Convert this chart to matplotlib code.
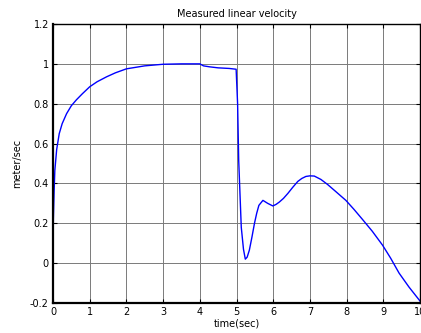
import matplotlib
matplotlib.use("Agg")
import matplotlib.pyplot as plt

# values
time_sec = [0.0, 0.01, 0.03, 0.05, 0.1, 0.17, 0.25, 0.37, 0.5, 0.64, 0.8, 1.0, 1.2,
            1.46, 1.7, 2.0, 2.5, 3.0, 3.5, 4.0, 4.1, 4.27, 4.5, 4.8, 4.99,
            5.03, 5.06, 5.13, 5.19, 5.24, 5.29, 5.35, 5.42, 5.49, 5.55, 5.61, 5.72, 5.85,
            5.99, 6.08, 6.17, 6.28, 6.4, 6.53, 6.67, 6.78, 6.89, 7.0, 7.12, 7.3, 7.48,
            7.7, 7.98, 8.2, 8.43, 8.7, 8.98, 9.2, 9.43, 9.7, 10.0]
velocity = [0.0, 0.22, 0.36, 0.465, 0.57, 0.65, 0.7, 0.75, 0.79, 0.82, 0.85, 0.885, 0.91,
            0.935, 0.955, 0.975, 0.99, 0.998, 1.0, 1.0, 0.99, 0.985, 0.98, 0.977, 0.973,
            0.8, 0.515, 0.18, 0.07, 0.02, 0.03, 0.065, 0.13, 0.2, 0.25, 0.29, 0.315, 0.3,
            0.287, 0.295, 0.307, 0.325, 0.35, 0.38, 0.41, 0.425, 0.435, 0.438, 0.437, 0.42, 0.395,
            0.36, 0.315, 0.27, 0.22, 0.16, 0.09, 0.025, -0.05, -0.12, -0.19]

x_ticks = [0, 1, 2, 3, 4, 5, 6, 7, 8, 9, 10]
y_ticks = [-0.2, 0, 0.2, 0.4, 0.6, 0.8, 1, 1.2]
y_labels = ["-0.2", "0", "0.2", "0.4", "0.6", "0.8", "1", "1.2"]

fig = plt.figure(figsize=(4.21, 3.33), dpi=100)
ax = fig.add_axes([53 / 421, 30 / 333, 367 / 421, 279 / 333])

ax.plot(time_sec, velocity, color="#0000ff", linewidth=1.0)

ax.set_xlim(0, 10)
ax.set_ylim(-0.2, 1.2)
ax.set_xticks(x_ticks)
ax.set_xticklabels([str(x) for x in x_ticks], fontsize=7)
ax.set_yticks(y_ticks)
ax.set_yticklabels(y_labels, fontsize=7)
ax.tick_params(direction="in", length=3, width=0.8, pad=3, top=True, right=True)

# matlab's dotted grid looks like a thin grey line at this size
ax.grid(True, color="#7a7a7a", linestyle="-", linewidth=0.7)
ax.set_axisbelow(True)

for side in ["left", "bottom"]:
    ax.spines[side].set_linewidth(1.6)
for side in ["top", "right"]:
    ax.spines[side].set_linewidth(1.0)

ax.set_title("Measured linear velocity", fontsize=7, pad=5)
ax.set_xlabel("time(sec)", fontsize=7, labelpad=1)
ax.set_ylabel("meter/sec", fontsize=7, labelpad=6)

fig.savefig("out.png", dpi=100)
